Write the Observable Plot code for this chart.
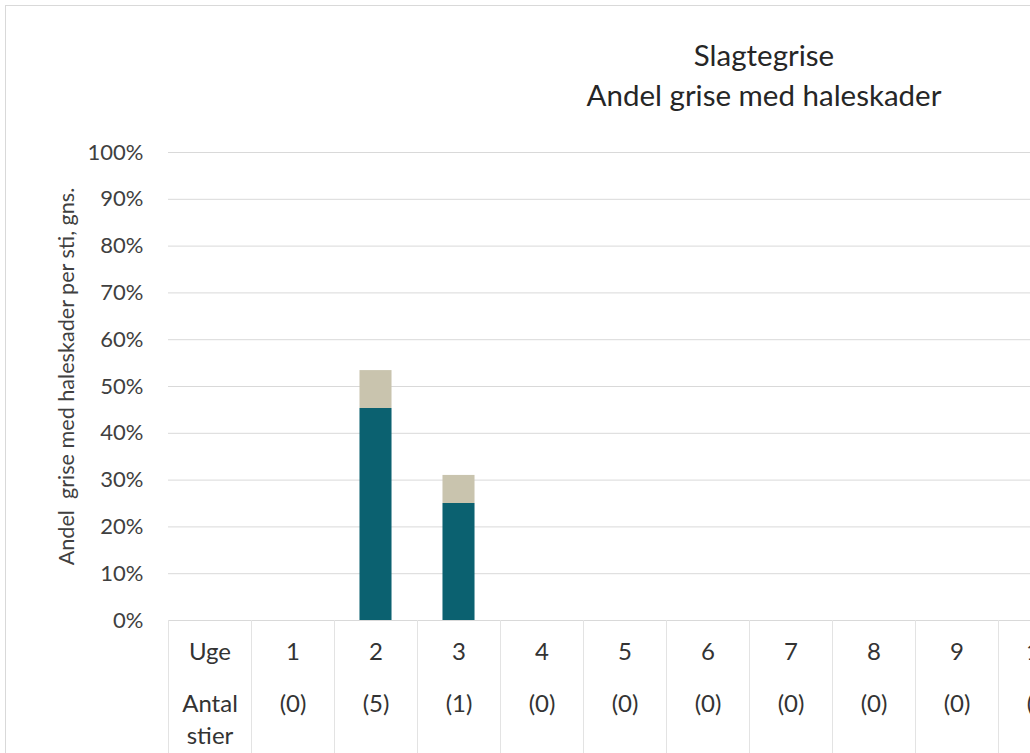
<!DOCTYPE html>
<html>
<head>
<meta charset="utf-8">
<script src="https://cdn.jsdelivr.net/npm/d3@7"></script>
<script src="https://cdn.jsdelivr.net/npm/@observablehq/plot@0.6"></script>
<style>
  html, body { margin: 0; padding: 0; background: #fff; overflow: hidden; width: 1030px; height: 753px; }
  #frame { position: absolute; left: 5px; top: 5px; width: 1518px; height: 900px; border: 1px solid #d9d9d9; box-sizing: border-box; background: #fff; }
  #title { width: 100%; text-align: center; font-family: Lato, "Open Sans", sans-serif; font-size: 29.5px; line-height: 40px; color: #262626; padding-top: 29px; height: 119px; box-sizing: border-box; }
  #chart { position: absolute; left: 0; top: 119px; }
</style>
</head>
<body>
<div id="frame">
  <div id="title">Slagtegrise<br>Andel grise med haleskader</div>
  <div id="chart"></div>
</div>
<script>
// ---- data ----
const weeks = [1, 2, 3, 4, 5, 6, 7, 8, 9, 10];
const antalStier = [0, 5, 1, 0, 0, 0, 0, 0, 0, 0];
const serieMoerk = [0, 45.3, 25.0, 0, 0, 0, 0, 0, 0, 0];   // dark teal segment (%)
const serieLys = [0, 8.1, 6.0, 0, 0, 0, 0, 0, 0, 0];       // beige segment (%)
const yTicks = [0, 10, 20, 30, 40, 50, 60, 70, 80, 90, 100];
const rowLabelUge = "Uge";
const rowLabelAntal = ["Antal", "stier"];
const yLabel = "Andel  grise med haleskader per sti, gns.";

// ---- derived tables ----
const half = 0.193;
const segs = [];
weeks.forEach((w, i) => {
  segs.push({week: w, y1: 0, y2: serieMoerk[i], serie: "moerk"});
  segs.push({week: w, y1: serieMoerk[i], y2: serieMoerk[i] + serieLys[i], serie: "lys"});
});
const cols = weeks.map((w, i) => ({week: w, n: antalStier[i]}));
const edges = [0, ...weeks, weeks.length + 1];

const colW = 83;
const marginLeft = 162;
const nCols = weeks.length + 1;
const width = marginLeft + colW * nCols + 20;
const tableFont = 24;

const plot = Plot.plot({
  width,
  height: 660,
  marginLeft,
  marginRight: 20,
  marginTop: 27,
  marginBottom: 165,
  style: {fontFamily: "Lato, 'Open Sans', sans-serif", fontSize: "17px", color: "#404040", background: "transparent", overflow: "visible"},
  x: {domain: [0, nCols], range: [marginLeft, marginLeft + colW * nCols], axis: null},
  y: {domain: [0, 100], axis: null},
  color: {domain: ["moerk", "lys"], range: ["#0b6170", "#c9c4ae"]},
  marks: [
    Plot.ruleY(yTicks, {stroke: "#d9d9d9", strokeWidth: 1}),
    Plot.text(yTicks, {x: 0, y: d => d, text: d => d + "%", textAnchor: "end", dx: -25, fill: "#404040", fontSize: 22}),
    Plot.text([yLabel], {frameAnchor: "left", textAnchor: "middle", lineAnchor: "middle", dx: -101, dy: -10, rotate: -90, text: d => d, fill: "#404040", fontSize: 21.6}),
    Plot.rect(segs, {x1: d => d.week + 0.5 - half, x2: d => d.week + 0.5 + half, y1: "y1", y2: "y2", fill: "serie"}),
    Plot.ruleX(edges, {x: d => d, y1: 0, y2: -40, stroke: "#e3e3e3", strokeWidth: 1}),
    Plot.text([rowLabelUge], {x: 0.5, y: 0, dy: 32, text: d => d, fill: "#333333", fontSize: tableFont}),
    Plot.text([rowLabelAntal[0]], {x: 0.5, y: 0, dy: 84, text: d => d, fill: "#333333", fontSize: tableFont}),
    Plot.text([rowLabelAntal[1]], {x: 0.5, y: 0, dy: 116, text: d => d, fill: "#333333", fontSize: tableFont}),
    Plot.text(cols, {x: d => d.week + 0.5, y: 0, dy: 32, text: d => String(d.week), fill: "#333333", fontSize: tableFont}),
    Plot.text(cols, {x: d => d.week + 0.5, y: 0, dy: 84, text: d => "(" + d.n + ")", fill: "#333333", fontSize: tableFont})
  ]
});
document.getElementById("chart").appendChild(plot);
</script>
</body>
</html>
